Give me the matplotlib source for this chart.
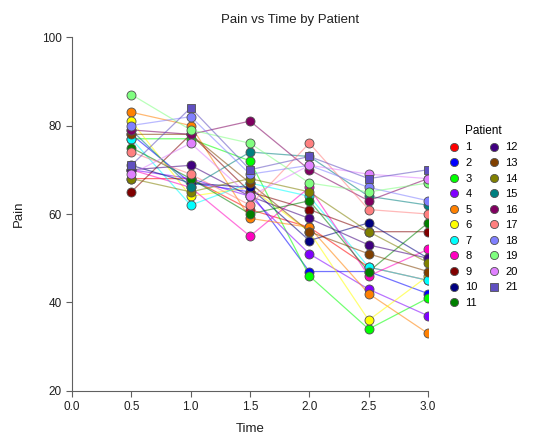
import matplotlib
matplotlib.use("Agg")
import matplotlib.pyplot as plt

plt.rcParams["font.family"] = ["Liberation Sans", "DejaVu Sans"]

# --- DATA ---
times = [0.5, 1.0, 1.5, 2.0, 2.5, 3.0]
patients = [str(i) for i in range(1, 22)]
pain = [
    [68, 68, 61, 57, 48, 45],   # 1
    [78, 67, 65, 47, 47, 42],   # 2
    [77, 77, 72, 46, 34, 41],   # 3
    [70, 68, 64, 51, 43, 37],   # 4
    [83, 80, 59, 57, 42, 33],   # 5
    [81, 64, 66, 56, 36, 46],   # 6
    [77, 62, 67, 64, 48, 45],   # 7
    [70, 66, 55, 66, 46, 52],   # 8
    [65, 78, 65, 61, 56, 56],   # 9
    [71, 67, 66, 54, 58, 50],   # 10
    [75, 68, 60, 63, 47, 58],   # 11
    [70, 71, 64, 59, 53, 50],   # 12
    [78, 78, 67, 56, 51, 47],   # 13
    [68, 65, 68, 65, 56, 49],   # 14
    [79, 66, 74, 73, 64, 62],   # 15
    [79, 78, 81, 70, 63, 68],   # 16
    [74, 69, 62, 76, 61, 60],   # 17
    [80, 82, 69, 71, 66, 63],   # 18
    [87, 79, 76, 67, 65, 67],   # 19
    [69, 76, 64, 71, 69, 68],   # 20
    [71, 84, 70, 73, 68, 70],   # 21
]
colors = ["#FF0000", "#0000FF", "#00FF00", "#8000FF", "#FF8000", "#FFFF00",
          "#00FFFF", "#FF00C0", "#800000", "#000080", "#008000", "#400080",
          "#804000", "#808000", "#008080", "#800060", "#FF8080", "#8080FF",
          "#80FF80", "#E080FF", "#6050C0"]
markers = ["o"] * 20 + ["s"]

# --- FIGURE ---
fig = plt.figure(figsize=(5.51, 4.47), dpi=100)
ax = fig.add_axes([0.1307, 0.1253, 0.6461, 0.7919])

for name, vals, col, mk in zip(patients, pain, colors, markers):
    ax.plot(times, vals, "-", color=col, lw=0.9, alpha=0.55, zorder=2)
    ax.plot(times, vals, linestyle="none", marker=mk,
            markersize=6.5 if mk == "o" else 6,
            markerfacecolor=col, markeredgecolor="#505050", markeredgewidth=0.6,
            label=name, zorder=3)

ax.set_xlim(0, 3)
ax.set_ylim(20, 100)
ax.set_xticks([0.0, 0.5, 1.0, 1.5, 2.0, 2.5, 3.0])
ax.set_yticks([20, 40, 60, 80, 100])
ax.spines["top"].set_visible(False)
ax.spines["right"].set_visible(False)
for s in ("left", "bottom"):
    ax.spines[s].set_color("#606060")
ax.tick_params(colors="#606060", labelcolor="#202020", labelsize=8.5, length=4)

fig.text(290 / 551, 1 - 20 / 447, "Pain vs Time by Patient", fontsize=9.5,
         color="#202020", ha="center", va="center")
ax.set_xlabel("Time", fontsize=9.5, color="#202020", labelpad=7)
ax.set_ylabel("Pain", fontsize=9.5, color="#202020", labelpad=12)

leg = ax.legend(ncol=2, title="Patient", frameon=False, fontsize=8,
                title_fontsize=8.5, loc="upper left", bbox_to_anchor=(1.03, 0.78),
                handletextpad=0.5, columnspacing=1.0, labelspacing=0.5,
                handlelength=1.0, markerscale=0.9)

fig.savefig("out.png", dpi=100)
